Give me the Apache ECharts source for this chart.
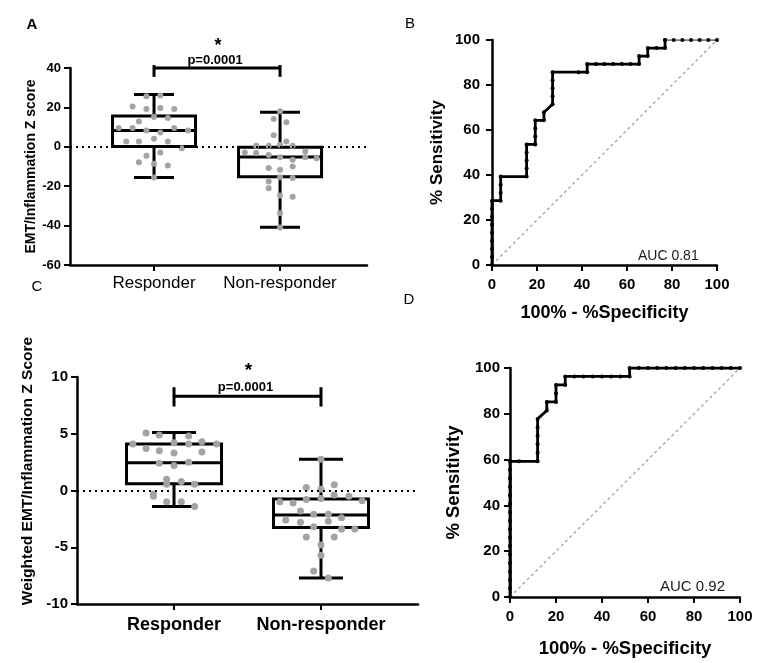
<!DOCTYPE html>
<html><head><meta charset="utf-8">
<script src="https://cdn.jsdelivr.net/npm/echarts@6/dist/echarts.min.js"></script>
<style>html,body{margin:0;padding:0;background:#fff}#c{width:763px;height:663px}</style>
</head><body><div id="c"></div>
<script>
// ---------- DATA ----------
const categories = ['Responder', 'Non-responder'];

// Panel A : [lower whisker, Q1, median, Q3, upper whisker]
const boxA_resp = [-15.6, 0.2, 8.3, 15.6, 26.6];
const boxA_non  = [-40.8, -15.2, -5.2, -0.2, 17.6];
const ptsA_resp_x = [0.94,1.05,0.83,0.94,1.05,1.16,0.88,1.0,1.11,0.72,0.83,0.94,1.05,1.16,1.27,0.78,0.88,1.0,1.11,1.22,0.94,1.05,0.88,1.0,1.11,1.0];
const ptsA_resp_y = [25.6,26.1,20.5,19.2,19.7,19.2,12.9,15.1,14.6,9.5,9.5,8.3,7.3,9.5,8.3,2.7,2.7,4.1,2.7,-0.7,-4.6,-2.9,-7.8,-8.6,-9.5,-15.6];
const ptsA_non_x = [2.0,1.95,2.05,1.95,2.05,1.81,1.91,2.0,2.1,1.72,1.81,1.91,2.0,2.1,2.2,2.2,2.29,1.91,2.0,2.1,2.0,2.1,1.91,1.91,2.0,2.1,2.0,2.0];
const ptsA_non_y = [18.0,14.1,12.4,5.8,2.7,0.5,0.5,1.0,0.5,-2.9,-3.2,-4.1,-5.3,-6.6,-2.4,-5.3,-5.8,-10.8,-11.7,-10.0,-15.4,-15.9,-17.6,-21.0,-24.7,-25.3,-33.7,-41.0];

// Panel C
const boxC_resp = [-1.4, 0.6, 2.45, 4.1, 5.1];
const boxC_non  = [-7.7, -3.25, -2.15, -0.75, 2.75];
const ptsC_resp_x = [0.81,0.9,1.1,0.72,1.0,1.1,1.19,1.29,0.81,0.9,1.0,1.19,0.9,1.0,1.1,0.95,1.05,0.95,1.14,0.86,0.86,0.95,1.05,1.14];
const ptsC_resp_y = [5.06,4.9,4.8,4.1,4.2,4.1,4.3,4.1,3.7,3.5,3.3,3.4,2.4,2.2,2.5,1.0,0.8,0.56,0.56,-0.3,-0.5,-1.0,-1.0,-1.4];
const ptsC_non_x = [2.0,1.9,2.0,2.09,2.09,2.19,1.72,1.81,1.9,2.0,2.28,1.86,1.95,2.05,2.14,1.76,1.86,2.05,1.95,2.14,2.23,1.9,2.09,2.0,2.0,1.95,2.05];
const ptsC_non_y = [2.76,0.26,0.1,0.5,-0.4,-0.5,-1.0,-1.1,-0.8,-0.7,-0.9,-1.8,-2.1,-2.1,-2.4,-2.6,-2.8,-2.7,-3.2,-3.4,-3.4,-4.1,-4.1,-4.8,-5.7,-7.1,-7.7];

// Significance brackets: [x from, x to, y, end top, end bottom]
const bracketA = [1, 2, 40, 41.5, 35.5];
const bracketC = [1, 2, 8.3, 9.1, 7.4];
const pText = 'p=0.0001';

// ROC curves (100% - %Specificity, % Sensitivity)
const rocB_fpr = [0,0,0,0,0,0,0,0,0,3.85,3.85,3.85,3.85,15.38,15.38,15.38,15.38,15.38,19.23,19.23,19.23,19.23,23.08,23.08,26.92,26.92,26.92,26.92,26.92,38.46,42.31,42.31,46.15,50,53.85,57.69,61.54,65.38,65.38,69.23,69.23,73.08,76.92,76.92,80.77,84.62,88.46,92.31,96.15,100];
const rocB_tpr = [0,3.57,7.14,10.71,14.29,17.86,21.43,25,28.57,28.57,32.14,35.71,39.29,39.29,42.86,46.43,50,53.57,53.57,57.14,60.71,64.29,64.29,67.86,71.43,75,78.57,82.14,85.71,85.71,85.71,89.29,89.29,89.29,89.29,89.29,89.29,89.29,92.86,92.86,96.43,96.43,96.43,100,100,100,100,100,100,100];
const rocD_fpr = [0,0,0,0,0,0,0,0,0,0,0,0,0,0,0,0,0,4,12,12,12,12,12,12,16,16,20,20,20,24,24,28,32,36,40,44,48,52,52,56,60,64,68,72,76,80,84,88,92,96,100];
const rocD_tpr = [0,3.7,7.41,11.11,14.81,18.52,22.22,25.93,29.63,33.33,37.04,40.74,44.44,48.15,51.85,55.56,59.26,59.26,59.26,62.96,66.67,70.37,74.07,77.78,81.48,85.19,85.19,88.89,92.59,92.59,96.3,96.3,96.3,96.3,96.3,96.3,96.3,96.3,100,100,100,100,100,100,100,100,100,100,100,100,100];
const chanceLine = [0, 100];
const aucB = 'AUC 0.81', aucD = 'AUC 0.92';

// ---------- CHART ----------
const FONT = '"Liberation Sans", Arial, sans-serif';
const chart = echarts.init(document.getElementById('c'), null, {renderer: 'canvas'});
const zip = (a, b) => a.map((v, i) => [v, b[i]]);

function boxRender(halfBox, halfCap) {
  return function (params, api) {
    const x = api.value(0);
    const lo = api.coord([x, api.value(1)]), q1 = api.coord([x, api.value(2)]),
          md = api.coord([x, api.value(3)]), q3 = api.coord([x, api.value(4)]),
          hi = api.coord([x, api.value(5)]);
    const cx = lo[0];
    const st = {stroke: '#000', lineWidth: 3, fill: null};
    return {type: 'group', children: [
      {type: 'line', shape: {x1: cx, y1: hi[1], x2: cx, y2: q3[1]}, style: st},
      {type: 'line', shape: {x1: cx, y1: q1[1], x2: cx, y2: lo[1]}, style: st},
      {type: 'line', shape: {x1: cx - halfCap, y1: hi[1], x2: cx + halfCap, y2: hi[1]}, style: st},
      {type: 'line', shape: {x1: cx - halfCap, y1: lo[1], x2: cx + halfCap, y2: lo[1]}, style: st},
      {type: 'rect', shape: {x: cx - halfBox, y: q3[1], width: 2 * halfBox, height: q1[1] - q3[1]}, style: {stroke: '#000', lineWidth: 3, fill: '#fff'}},
      {type: 'line', shape: {x1: cx - halfBox, y1: md[1], x2: cx + halfBox, y2: md[1]}, style: st}
    ]};
  };
}
function bracketRender(pGap, starGap, pSize, starSize) {
  return function (params, api) {
    const a = api.coord([api.value(0), api.value(2)]);
    const b = api.coord([api.value(1), api.value(2)]);
    const t = api.coord([api.value(0), api.value(3)]);
    const u = api.coord([api.value(0), api.value(4)]);
    const st = {stroke: '#000', lineWidth: 3, fill: null};
    const mx = (a[0] + b[0]) / 2;
    return {type: 'group', children: [
      {type: 'line', shape: {x1: a[0], y1: a[1], x2: b[0], y2: b[1]}, style: st},
      {type: 'line', shape: {x1: a[0], y1: t[1], x2: a[0], y2: u[1]}, style: st},
      {type: 'line', shape: {x1: b[0], y1: t[1], x2: b[0], y2: u[1]}, style: st},
      {type: 'text', x: mx - 2, y: a[1] - pGap, style: {text: pText, fill: '#000', font: 'bold ' + pSize + 'px ' + FONT, align: 'center', verticalAlign: 'middle'}},
      {type: 'text', x: mx + 1, y: a[1] - starGap, style: {text: '*', fill: '#000', font: 'bold ' + starSize + 'px ' + FONT, align: 'center', verticalAlign: 'middle'}}
    ]};
  };
}

const black = '#000';
function boxXAxis(gi, min, max, fs, margin) {
  return {gridIndex: gi, type: 'value', min: min, max: max, splitLine: {show: false},
    axisLine: {onZero: false, lineStyle: {color: black, width: 2.5}},
    axisTick: {customValues: [1, 2], length: 6, lineStyle: {color: black, width: 2}},
    axisLabel: {customValues: [1, 2], formatter: v => categories[Math.round(v) - 1], color: black,
      fontSize: fs, fontFamily: FONT, fontWeight: gi === 2 ? 'bold' : 'normal', margin: margin}};
}
function valYAxis(gi, min, max, interval, fs, margin, extra) {
  return Object.assign({gridIndex: gi, type: 'value', min: min, max: max, interval: interval, splitLine: {show: false},
    axisLine: {onZero: false, lineStyle: {color: black, width: 2.5}},
    axisTick: {length: 6, lineStyle: {color: black, width: 2}},
    axisLabel: {color: black, fontSize: fs, fontWeight: 'bold', fontFamily: FONT, margin: margin}}, extra || {});
}
function rocXAxis(gi, gap, fs) {
  return {gridIndex: gi, type: 'value', min: 0, max: 100, interval: 20, splitLine: {show: false},
    axisLine: {onZero: false, lineStyle: {color: black, width: 2.5}},
    axisTick: {length: 6, lineStyle: {color: black, width: 2}},
    axisLabel: {color: black, fontSize: 15, fontWeight: 'bold', fontFamily: FONT, margin: 12},
    name: '100% - %Specificity', nameLocation: 'middle', nameGap: gap,
    nameTextStyle: {color: black, fontSize: fs, fontWeight: 'bold', fontFamily: FONT}};
}

const zeroLine = (xi, yi) => ({type: 'line', xAxisIndex: xi, yAxisIndex: yi, data: [], z: 1,
  markLine: {silent: true, symbol: 'none', label: {show: false}, animation: false,
    lineStyle: {color: black, type: [2, 4], width: 2}, data: [{yAxis: 0}]}});
const boxSeries = (xi, yi, data, hb, hc) => ({type: 'custom', xAxisIndex: xi, yAxisIndex: yi, z: 2,
  renderItem: boxRender(hb, hc), encode: {x: 0, y: [1, 2, 3, 4, 5]}, data: data});
const dotSeries = (xi, yi, xs, ys, size) => ({type: 'scatter', xAxisIndex: xi, yAxisIndex: yi, z: 3,
  symbol: 'circle', symbolSize: size, itemStyle: {color: '#a3a3a3', opacity: 1}, data: zip(xs, ys)});
const rocLine = (xi, yi, d, w, col) => ({type: 'line', xAxisIndex: xi, yAxisIndex: yi, z: 3, data: d,
  symbol: 'circle', symbolSize: 4, showSymbol: true, lineStyle: {color: col, width: w},
  itemStyle: {color: '#000'}});
const chance = (xi, yi) => ({type: 'line', xAxisIndex: xi, yAxisIndex: yi, z: 1, symbol: 'none',
  data: zip(chanceLine, chanceLine), lineStyle: {color: '#9a9a9a', width: 1.2, type: [3, 3]}});

const rocB = zip(rocB_fpr, rocB_tpr);
const rocD = zip(rocD_fpr, rocD_tpr);
const splitB = rocB_tpr.indexOf(100);

const option = {
  animation: false,
  backgroundColor: '#fff',
  grid: [
    {left: 70, top: 68, width: 297, height: 197},
    {left: 492, top: 40, width: 225, height: 225},
    {left: 77, top: 377, width: 341, height: 227},
    {left: 510, top: 368, width: 230, height: 229}
  ],
  xAxis: [
    boxXAxis(0, 0.3333, 2.69, 17, 10),
    rocXAxis(1, 39, 18),
    boxXAxis(2, 0.34, 2.66, 18, 12),
    rocXAxis(3, 42, 18.5)
  ],
  yAxis: [
    valYAxis(0, -60, 40, 20, 13, 9, {name: 'EMT/Inflammation Z score', nameLocation: 'middle', nameRotate: 90, nameGap: 29,
      nameTextStyle: {color: black, fontSize: 14, fontWeight: 'bold', fontFamily: FONT}}),
    valYAxis(1, 0, 100, 20, 15, 12, {name: '% Sensitivity', nameLocation: 'middle', nameRotate: 90, nameGap: 46,
      nameTextStyle: {color: black, fontSize: 17, fontWeight: 'bold', fontFamily: FONT}}),
    valYAxis(2, -10, 10, 5, 15, 9),
    valYAxis(3, 0, 100, 20, 15, 10, {name: '% Sensitivity', nameLocation: 'middle', nameRotate: 90, nameGap: 47,
      nameTextStyle: {color: black, fontSize: 18.5, fontWeight: 'bold', fontFamily: FONT}})
  ],
  series: [
    zeroLine(0, 0),
    boxSeries(0, 0, [[1].concat(boxA_resp), [2].concat(boxA_non)], 41.5, 20),
    dotSeries(0, 0, ptsA_resp_x, ptsA_resp_y, 6),
    dotSeries(0, 0, ptsA_non_x, ptsA_non_y, 6),
    {type: 'custom', xAxisIndex: 0, yAxisIndex: 0, z: 4, renderItem: bracketRender(8, 22, 13, 18), encode: {x: [0, 1], y: 2}, data: [bracketA]},

    chance(1, 1),
    rocLine(1, 1, rocB.slice(0, splitB + 1), 2.8, '#000'),
    rocLine(1, 1, rocB.slice(splitB), 1.3, '#555'),

    zeroLine(2, 2),
    boxSeries(2, 2, [[1].concat(boxC_resp), [2].concat(boxC_non)], 47.5, 22),
    dotSeries(2, 2, ptsC_resp_x, ptsC_resp_y, 7),
    dotSeries(2, 2, ptsC_non_x, ptsC_non_y, 7),
    {type: 'custom', xAxisIndex: 2, yAxisIndex: 2, z: 4, renderItem: bracketRender(9, 26, 13, 19), encode: {x: [0, 1], y: 2}, data: [bracketC]},

    chance(3, 3),
    rocLine(3, 3, rocD, 2.8, '#000')
  ],
  graphic: [
    {type: 'text', x: 32, y: 25, style: {text: 'A', font: 'bold 15px ' + FONT, fill: '#000', align: 'center', verticalAlign: 'middle'}},
    {type: 'text', x: 410, y: 24, style: {text: 'B', font: '15px ' + FONT, fill: '#000', align: 'center', verticalAlign: 'middle'}},
    {type: 'text', x: 37, y: 287, style: {text: 'C', font: '15px ' + FONT, fill: '#000', align: 'center', verticalAlign: 'middle'}},
    {type: 'text', x: 409, y: 300, style: {text: 'D', font: '15px ' + FONT, fill: '#000', align: 'center', verticalAlign: 'middle'}},
    {type: 'text', x: 638, y: 256, style: {text: aucB, font: '14px ' + FONT, fill: '#1a1a1a', align: 'left', verticalAlign: 'middle'}},
    {type: 'text', x: 660, y: 587, style: {text: aucD, font: '15px ' + FONT, fill: '#1a1a1a', align: 'left', verticalAlign: 'middle'}},
    {type: 'text', x: 28, y: 471, rotation: Math.PI / 2, style: {text: 'Weighted EMT/Inflammation Z Score', font: 'bold 15.5px ' + FONT, fill: '#000', align: 'center', verticalAlign: 'middle'}}
  ]
};
chart.setOption(option);
</script></body></html>
